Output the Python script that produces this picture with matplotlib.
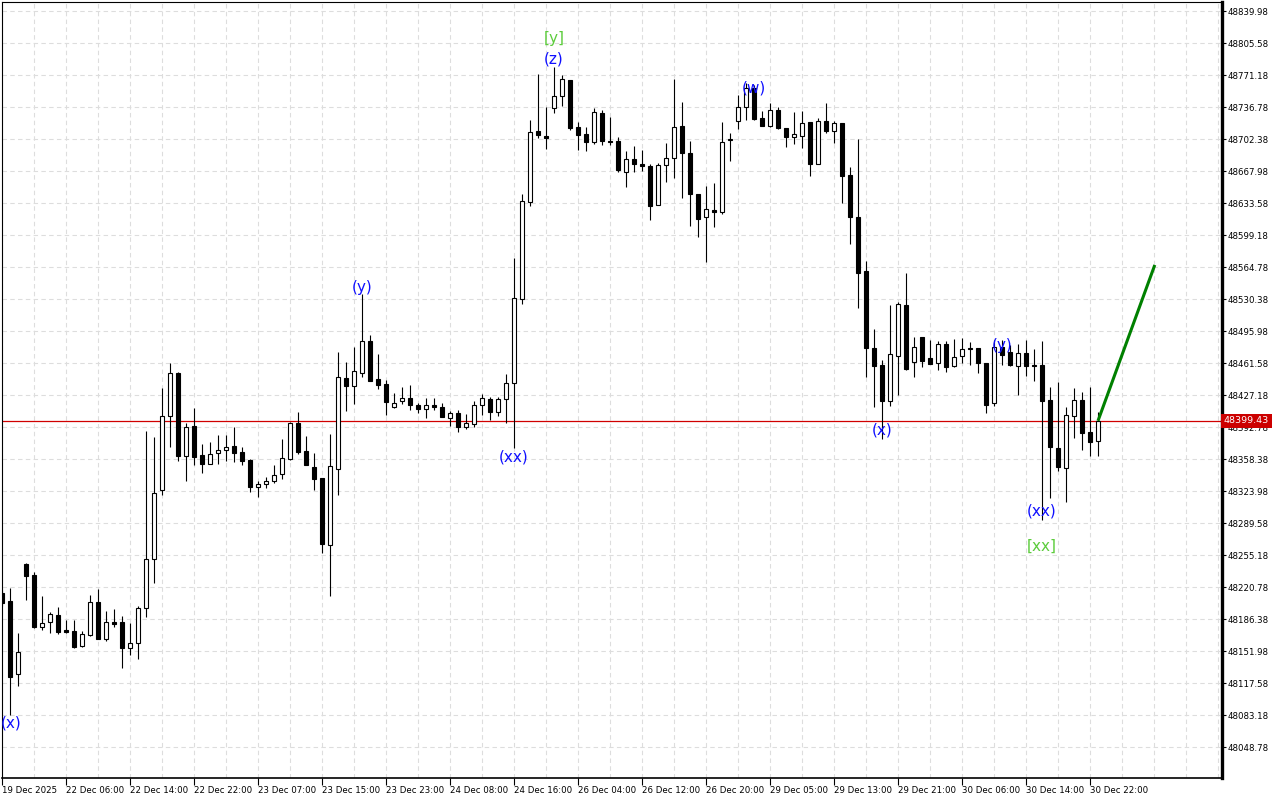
import matplotlib
matplotlib.use("Agg")
import matplotlib.pyplot as plt
import numpy as np

# hourly OHLC candles, 19 Dec 2025 .. 30 Dec 23:00
opens = [48214, 48206, 48127, 48245, 48234, 48178, 48183, 48191, 48175, 48173,
         48157, 48169, 48205, 48165, 48183, 48183, 48155, 48161, 48198, 48251,
         48325, 48405, 48451, 48362, 48394, 48363, 48353, 48365, 48368, 48372,
         48366, 48357, 48328, 48331, 48335, 48342, 48358, 48397, 48367, 48350,
         48338, 48266, 48348, 48445, 48437, 48451, 48485, 48444, 48439, 48414,
         48421, 48424, 48416, 48412, 48416, 48414, 48402, 48408, 48393, 48396,
         48416, 48423, 48409, 48423, 48440, 48530, 48635, 48711, 48706, 48736,
         48749, 48766, 48715, 48708, 48699, 48730, 48700, 48700, 48667, 48681,
         48676, 48673, 48631, 48674, 48682, 48716, 48687, 48643, 48618, 48626,
         48624, 48701, 48722, 48737, 48757, 48725, 48716, 48734, 48714, 48705,
         48706, 48721, 48676, 48722, 48711, 48720, 48664, 48618, 48560, 48478,
         48459, 48421, 48469, 48524, 48463, 48490, 48467, 48462, 48482, 48458,
         48469, 48478, 48478, 48462, 48419, 48479, 48473, 48458, 48472, 48459,
         48459, 48422, 48370, 48349, 48405, 48422, 48387, 48378]
highs = [48218, 48220, 48171, 48247, 48237, 48211, 48194, 48199, 48185, 48185,
         48173, 48212, 48219, 48195, 48197, 48190, 48182, 48200, 48388, 48382,
         48435, 48462, 48452, 48397, 48413, 48374, 48377, 48384, 48384, 48393,
         48371, 48358, 48335, 48339, 48352, 48380, 48398, 48409, 48383, 48365,
         48338, 48385, 48473, 48463, 48479, 48536, 48492, 48471, 48443, 48429,
         48436, 48438, 48419, 48424, 48424, 48419, 48410, 48411, 48407, 48421,
         48428, 48425, 48425, 48450, 48574, 48643, 48723, 48772, 48737, 48780,
         48771, 48766, 48721, 48715, 48736, 48734, 48726, 48705, 48690, 48695,
         48691, 48676, 48677, 48698, 48767, 48742, 48700, 48643, 48652, 48655,
         48721, 48709, 48750, 48763, 48760, 48733, 48741, 48737, 48714, 48731,
         48733, 48721, 48725, 48741, 48722, 48720, 48672, 48702, 48571, 48498,
         48465, 48524, 48527, 48558, 48490, 48490, 48486, 48485, 48485, 48487,
         48488, 48484, 48478, 48462, 48486, 48486, 48481, 48482, 48486, 48477,
         48485, 48436, 48441, 48414, 48435, 48430, 48436, 48409]
lows = [48200, 48083, 48114, 48207, 48177, 48175, 48171, 48170, 48171, 48155,
        48156, 48168, 48165, 48163, 48178, 48134, 48148, 48143, 48188, 48225,
        48320, 48371, 48356, 48335, 48352, 48343, 48353, 48353, 48356, 48355,
        48352, 48323, 48317, 48327, 48333, 48337, 48357, 48364, 48352, 48325,
        48257, 48211, 48320, 48410, 48418, 48446, 48442, 48434, 48406, 48413,
        48418, 48411, 48408, 48402, 48411, 48403, 48394, 48387, 48391, 48393,
        48406, 48400, 48405, 48397, 48370, 48525, 48630, 48703, 48692, 48730,
        48738, 48712, 48691, 48690, 48697, 48696, 48696, 48667, 48651, 48667,
        48668, 48615, 48631, 48656, 48660, 48639, 48609, 48597, 48570, 48608,
        48622, 48679, 48713, 48723, 48723, 48716, 48715, 48713, 48694, 48697,
        48693, 48663, 48676, 48709, 48698, 48634, 48590, 48521, 48446, 48414,
        48380, 48415, 48427, 48454, 48446, 48457, 48461, 48454, 48452, 48457,
        48462, 48459, 48451, 48408, 48415, 48459, 48458, 48427, 48448, 48442,
        48293, 48316, 48345, 48312, 48381, 48368, 48362, 48362]
closes = [48204, 48124, 48151, 48233, 48178, 48182, 48192, 48172, 48172, 48156,
          48170, 48205, 48165, 48183, 48181, 48155, 48161, 48198, 48251, 48322,
          48405, 48451, 48362, 48393, 48360, 48353, 48364, 48368, 48371, 48365,
          48356, 48328, 48331, 48335, 48341, 48359, 48397, 48366, 48352, 48337,
          48267, 48351, 48447, 48437, 48453, 48485, 48442, 48438, 48420, 48419,
          48424, 48416, 48412, 48416, 48414, 48403, 48408, 48393, 48397, 48416,
          48424, 48409, 48423, 48440, 48531, 48636, 48710, 48707, 48703, 48749,
          48767, 48714, 48707, 48699, 48731, 48700, 48699, 48669, 48681, 48676,
          48673, 48630, 48674, 48682, 48715, 48687, 48643, 48616, 48627, 48624,
          48699, 48702, 48737, 48757, 48724, 48716, 48734, 48714, 48705, 48708,
          48720, 48676, 48722, 48711, 48720, 48663, 48618, 48558, 48478, 48458,
          48421, 48471, 48525, 48455, 48479, 48464, 48461, 48482, 48457, 48468,
          48477, 48477, 48462, 48416, 48479, 48470, 48459, 48472, 48458, 48458,
          48421, 48371, 48350, 48406, 48422, 48386, 48377, 48399.43]

time_labels = ["19 Dec 2025", "22 Dec 06:00", "22 Dec 14:00", "22 Dec 22:00",
               "23 Dec 07:00", "23 Dec 15:00", "23 Dec 23:00", "24 Dec 08:00",
               "24 Dec 16:00", "26 Dec 04:00", "26 Dec 12:00", "26 Dec 20:00",
               "29 Dec 05:00", "29 Dec 13:00", "29 Dec 21:00", "30 Dec 06:00",
               "30 Dec 14:00", "30 Dec 22:00"]

# wave marks: text, candle index, price
wave_labels = [("(x)", 1.1, 48075), ("(y)", 45, 48543), ("(xx)", 64, 48360),
               ("(z)", 69, 48788), ("(w)", 94, 48757), ("(x)", 110, 48390),
               ("(y)", 125, 48480), ("(xx)", 130, 48302)]
major_labels = [("[y]", 69, 48810), ("[xx]", 130, 48265)]

# forecast segment
proj_idx = [137, 144.1]
proj_price = [48399.43, 48567]

current_price = 48399.43

plt.rcParams['font.family'] = ['DejaVu Sans']

fig = plt.figure(figsize=(12.8, 8), dpi=100)
ax = fig.add_axes([2 / 1280, 22 / 800, 1220 / 1280, 776 / 800])

idx = np.arange(len(opens))
o = np.array(opens)
c = np.array(closes)
bull = c >= o

ax.vlines(idx, lows, highs, color='black', lw=0.8, zorder=3)
ax.bar(idx[bull], (c - o)[bull], bottom=o[bull], width=0.55,
       color='white', edgecolor='black', linewidth=0.8, zorder=4)
ax.bar(idx[~bull], (c - o)[~bull], bottom=o[~bull], width=0.55,
       color='black', edgecolor='black', linewidth=0.8, zorder=4)

ax.axhline(current_price, color='#d00000', lw=0.9, zorder=2)
ax.plot(proj_idx, proj_price, color='#008000', lw=2.2, zorder=5,
        solid_capstyle='butt')

for txt, i, p in wave_labels:
    ax.text(i, p, txt, color='#1010ff', fontsize=11, ha='center',
            va='center', zorder=6, clip_on=True)
for txt, i, p in major_labels:
    ax.text(i, p, txt, color='#5ccc3c', fontsize=11, ha='center',
            va='center', zorder=6, clip_on=True)

ax.set_xlim(0, 152.5)
ax.set_ylim(48015.46, 48849.66)

yt = np.round(48048.78 + 34.4 * np.arange(24), 2)
ax.set_yticks(yt)
ax.set_yticklabels([f"{v:.2f}" for v in yt])
ax.yaxis.tick_right()
ax.tick_params(axis='y', direction='out', length=3, width=0.8, pad=1,
               labelsize=6.2, colors='black')

xt = np.arange(0, 8 * len(time_labels), 8)
ax.set_xticks(xt)
ax.set_xticklabels(time_labels, ha='left')
ax.set_xticks(np.arange(0, 153, 4), minor=True)
ax.tick_params(axis='x', which='major', direction='out', length=5, width=0.8,
               pad=1, labelsize=6.2)
ax.tick_params(axis='x', which='minor', length=0)

ax.grid(True, which='both', color='#dddddd', linestyle=(0, (4, 3)), lw=0.8)
ax.grid(False, which='minor', axis='y')
ax.set_axisbelow(True)

for side in ('left', 'top'):
    ax.spines[side].set_linewidth(0.8)
ax.spines['bottom'].set_linewidth(1.2)
ax.spines['right'].set_linewidth(2.4)

ax.text(1.0015, current_price, f"{current_price:.2f}",
        transform=ax.get_yaxis_transform(), ha='left', va='center',
        color='white', fontsize=6.8, zorder=10, clip_on=False,
        bbox=dict(boxstyle='square,pad=0.28', fc='#cc0000', ec='none'))

fig.savefig("out.png", dpi=100, facecolor='white')
